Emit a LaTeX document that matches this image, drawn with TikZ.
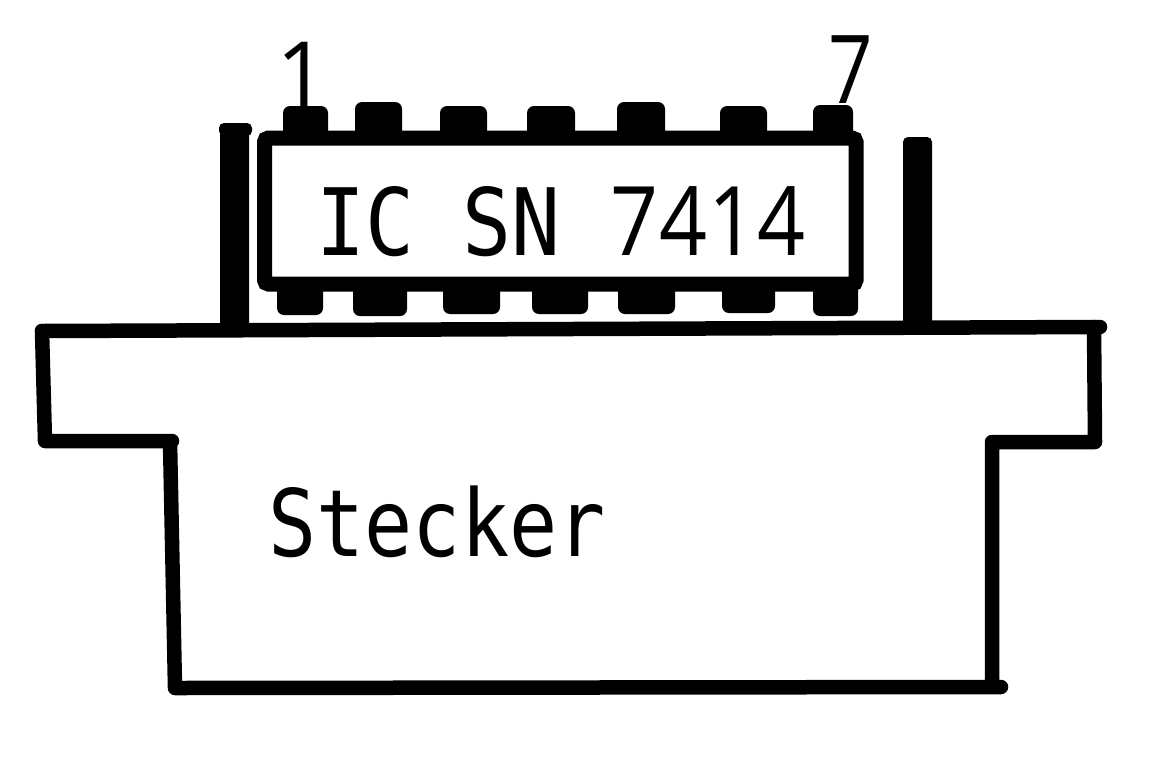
\documentclass[tikz,border=0pt]{standalone}
\usepackage{fontspec}
\setmainfont{DejaVu Sans Mono}
\newfontfamily\dgfont{Open Sans}
\newcommand{\dg}[1]{\makebox[56pt]{\fontsize{96}{96}\dgfont #1}}
\tikzset{
  outline/.style={draw=black,line width=14.5pt,line join=round,line cap=round},
  postbar/.style={fill=black,rounded corners=5pt},
  pin/.style={fill=black,rounded corners=7pt},
  lab/.style={inner sep=0pt,text=black},
}
\begin{document}
\begin{tikzpicture}[x=1pt,y=-1pt]
\useasboundingbox (0,0) rectangle (1153,756);
\fill[white] (0,0) rectangle (1153,756);
% plug
\draw[outline] (42,331) -- (1100,327);
\draw[outline] (42,331) -- (45,441) -- (172,441) (170,441) -- (175,688) -- (1001,687) (992,687) -- (992,442) -- (1095,442) -- (1094,327);
% posts
\fill[postbar] (220,123) rectangle (249,330);
\fill[postbar] (219,123) rectangle (252,136);
\fill[postbar] (903,137) rectangle (932,330);
% pins top
\foreach \a/\b/\t in {283/328/106,355/402/102,440/487/106,527/575/106,617/665/102,720/767/106,813/853/105}{
  \fill[pin] (\a,\t) rectangle (\b,145);
}
% pins bottom
\foreach \a/\b/\t in {277/323/315,353/407/316,443/500/314,532/588/314,618/675/314,722/775/313,813/858/316}{
  \fill[pin] (\a,280) rectangle (\b,\t);
}
% IC body
\draw[fill=white,draw=black,line width=15pt,rounded corners=4pt] (264.5,138) rectangle (856,284);
\node[lab,font=\fontsize{93}{93}\selectfont,anchor=base,xscale=.875] (t) at (561,255) {IC SN \dg{7}\dg{4}\dg{1}\dg{4}};
\node[lab,font=\fontsize{90}{90}\dgfont,anchor=base] (s) at (302,106) {1};
\node[lab,font=\fontsize{95}{95}\dgfont,anchor=base,xscale=.82] (z) at (851,103) {7};
\node[lab,font=\fontsize{93}{93}\selectfont,anchor=base,xscale=.86] (st) at (437,556) {Stecker};
\end{tikzpicture}
\end{document}
